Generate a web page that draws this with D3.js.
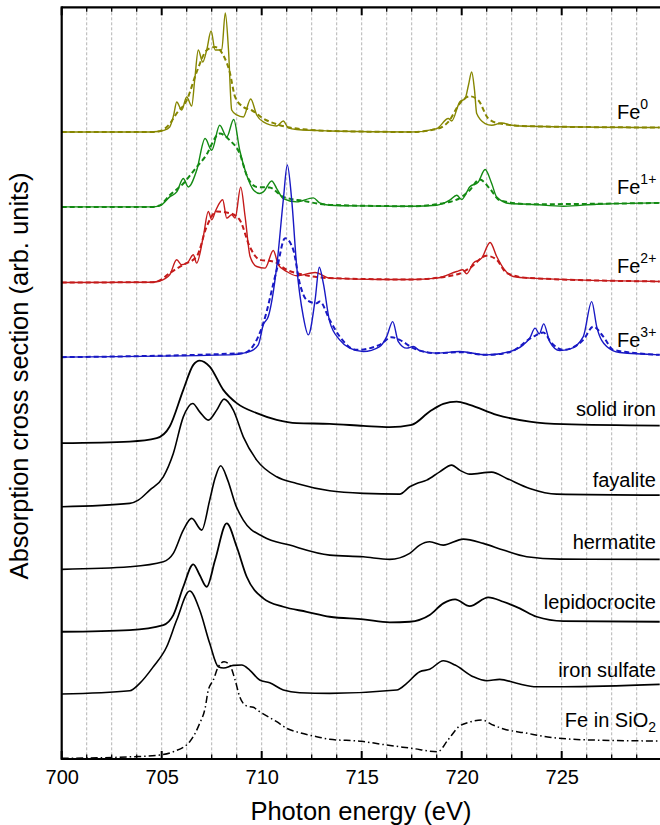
<!DOCTYPE html>
<html><head><meta charset="utf-8">
<script src="https://cdn.jsdelivr.net/npm/d3@7"></script>
<style>
body{margin:0;background:#fff;}
svg{display:block;font-family:"Liberation Sans",Arial,Helvetica,sans-serif;}
</style>
</head><body>
<svg id="chart" width="660" height="825"></svg>
<script>
// ---------------- data ----------------
const xMajorTicks = [700, 705, 710, 715, 720, 725];
const xMinorTicks = [701.25, 702.5, 703.75, 706.25, 707.5, 708.75, 711.25, 712.5, 713.75,
  716.25, 717.5, 718.75, 721.25, 722.5, 723.75, 726.25, 727.5, 728.75];

const seriesNames = ["Fe0", "Fe1+", "Fe2+", "Fe3+", "solid iron", "fayalite", "hermatite",
  "lepidocrocite", "iron sulfate", "Fe in SiO2"];
// vertical stacking offset of each spectrum (arb. units)
const offsets = [627.3, 552.3, 476.7, 402, 316, 252.3, 189.7, 127.3, 65, 0.7];

const fe0Solid = [[700,0],[704.4,0],[704.8,0.4],[705.1,1.5],[705.4,5],[705.6,17],[705.75,30],[706.0,22],[706.25,35],[706.5,26],[706.65,52],[706.83,82],[707.05,70],[707.25,82],[707.47,101],[707.67,82],[708.0,82],[708.18,119],[708.34,82],[708.5,22],[708.75,17],[709.08,15],[709.45,33],[709.75,17],[710.08,10],[710.75,6],[711.08,11],[711.33,4],[711.75,2.4],[713.4,1],[717.5,0],[718.75,3.4],[719.33,13.4],[719.5,11],[719.9,30],[720.17,33.4],[720.34,47],[720.5,60],[720.64,42],[720.75,18.4],[721.17,8.4],[721.5,6.7],[722.0,9],[722.5,6.7],[723.4,5.7],[729.9,4.4]];
const fe0Dashed = [[700,0],[704.6,0],[705.0,1.5],[705.4,8],[705.75,18.7],[706.25,31.7],[706.75,60],[707.25,81.7],[707.67,85],[708.08,76.7],[708.4,60],[708.67,35],[709.08,25],[709.5,21.7],[710.08,13.4],[710.75,7.7],[711.4,4.4],[712.25,2.4],[713.4,1],[717.5,0],[718.75,3],[719.33,10],[719.9,28.4],[720.4,35.7],[720.83,31.7],[721.33,13.4],[721.9,8.4],[723.4,5.7],[729.9,4.4]];

const fe1Solid = [[700,0],[704.5,0],[704.9,1],[705.4,10],[705.75,15],[706.08,28.4],[706.33,20],[706.75,36.7],[707.17,68.4],[707.5,56.7],[707.9,81.7],[708.25,70],[708.6,87.4],[708.9,56.7],[709.25,31.7],[709.6,16.7],[709.9,13.4],[710.08,15],[710.5,26],[710.75,18.4],[711.08,8.4],[711.75,5],[712.58,9],[712.9,4],[713.4,1.7],[715,1],[717.5,0.7],[718.75,1.7],[719.4,6.7],[719.75,11.7],[720.0,7.4],[720.4,20],[720.83,25],[721.17,37.4],[721.5,23.4],[721.75,10],[722.4,3.4],[723.4,2.7],[725.1,0.7],[726.75,2.7],[729.9,4]];
const fe1Dashed = [[700,0],[704.5,0],[704.9,1.5],[705.4,11.7],[706.08,23.4],[706.75,40],[707.17,50],[707.9,73.4],[708.4,66.7],[708.9,53.4],[709.25,31.7],[709.75,20],[710.4,19.4],[711.08,10],[712.08,6],[713.4,2],[717.5,0.7],[719.4,5],[720.0,10],[720.4,16.7],[720.9,27.4],[721.4,18.4],[721.9,6.7],[723.4,2.7],[729.9,4]];

const fe2Solid = [[700,0],[704.5,0.3],[704.9,1.5],[705.4,7.7],[705.75,22.7],[706.0,17.7],[706.3,20],[706.58,27.7],[706.75,19.4],[707.08,46],[707.33,71],[707.5,62.7],[707.7,72],[708.05,82.7],[708.25,64.4],[708.5,67.7],[708.67,64.4],[708.95,95.4],[709.17,66],[709.42,26],[709.75,16],[710.17,14.4],[710.58,32],[710.83,17.7],[711.25,11],[711.75,6.7],[712.67,10],[713.4,4.4],[716,3],[717.5,3],[718.75,4.4],[719.75,11],[720.05,12.7],[720.25,8.7],[720.58,19.4],[721.0,24.4],[721.42,40],[721.75,26],[722.08,14.4],[722.58,6],[723.4,4.4],[729.9,1]];
const fe2Dashed = [[700,0],[704.5,0.3],[704.9,2],[705.4,9.4],[706.08,17.7],[706.75,26],[707.25,56],[707.75,71],[708.4,69.4],[708.9,62.7],[709.4,36],[709.9,22.7],[710.58,21],[711.25,12.7],[712.08,7.7],[713.4,4.4],[717.5,3],[719.75,8],[720.4,14.4],[721.25,26.7],[721.75,22.7],[722.25,9.4],[723.4,4.4],[729.9,1]];

const fe3Solid = [[700,0],[708.4,2.3],[709.4,5.6],[709.83,12.3],[710.08,32.3],[710.33,40.6],[710.75,90.6],[711.08,157.3],[711.28,192.3],[711.5,157.3],[711.75,90.6],[712.08,40.6],[712.33,22.3],[712.67,57.3],[712.88,90],[713.08,74],[713.4,35.6],[713.9,17.3],[714.4,9],[715.08,5.6],[715.9,10.6],[716.25,20.6],[716.55,35.6],[716.83,15.6],[717.25,9],[717.58,10.6],[717.9,6.6],[718.75,4],[719.9,5.6],[721.25,2.3],[722.4,5.6],[723.08,12.3],[723.4,19],[723.67,29],[723.88,23.3],[724.1,33.3],[724.4,15.6],[724.9,6.6],[725.4,8],[726.08,20.6],[726.5,55.6],[726.75,30.6],[727.25,10.6],[727.9,4.6],[729.9,2.3]];
const fe3Dashed = [[700,0],[709.08,4],[709.75,17.3],[710.08,34],[710.75,87.3],[711.17,119],[711.58,107.3],[711.9,74],[712.25,57.3],[712.75,54],[712.9,55.6],[713.4,37.3],[713.9,20.6],[714.75,7.3],[715.9,12.3],[716.5,20],[716.9,17.3],[717.58,9],[718.75,4],[719.9,5],[721.25,2.3],[722.4,5],[723.58,20.6],[724.08,24.6],[724.5,14],[725.08,7.3],[726.08,17.3],[726.58,30.6],[727.08,20.6],[727.58,7.3],[729.9,2.3]];

const solidIron = [[700,0],[703.4,1.6],[704.75,5],[705.4,16.6],[706.08,53.3],[706.58,78.3],[706.9,82.6],[707.4,76.6],[708.08,53.3],[708.75,40],[709.75,30],[710.75,23.3],[711.75,20],[713.4,19.3],[715.08,17.3],[716.4,16],[717.5,18.3],[718.4,31.6],[719.08,39.3],[719.75,41.6],[720.4,38.3],[721.75,28.3],[723.4,21.6],[725.08,19],[729.9,17.6]];
const fayalite = [[700,0],[703.4,3.4],[703.83,6.7],[704.4,16.7],[705.08,30],[705.58,53.4],[706.08,90],[706.55,103.4],[706.9,95],[707.33,86.7],[707.75,96.7],[708.12,107.7],[708.58,96.7],[709.08,70],[709.75,46.7],[710.75,30],[711.75,23.4],[713.4,16],[715.08,13.4],[716.9,12.7],[717.4,20],[717.75,23.4],[718.25,26.7],[718.9,35],[719.5,41.7],[719.9,36.7],[720.4,32.7],[721.5,34.7],[722.25,28.4],[723.4,18.4],[724.75,12.7],[729.9,11.7]];
const hermatite = [[700,0],[703.4,2.6],[705.08,7.6],[705.58,16],[706.08,39.3],[706.5,51],[707.0,39.3],[707.4,69.3],[707.67,91.3],[707.95,103.6],[708.3,89.3],[708.7,64.3],[709.08,49.3],[710.08,32.6],[711.4,24.3],[713.4,14.3],[715.08,12.6],[716.4,10],[717.4,16],[717.9,24.3],[718.4,27.6],[719.08,24.3],[720.08,30.3],[721.08,26],[722.08,19.3],[723.25,12.6],[724.9,10.3],[729.9,10]];
const lepidocrocite = [[700,0],[703.4,1.7],[705.08,6.7],[705.58,16.7],[706.08,45],[706.58,67.4],[706.9,56.7],[707.25,45],[707.67,71.7],[708.25,108.4],[708.75,85],[709.25,55],[710.08,33.4],[711.08,25],[712.25,20],[713.4,15],[715.08,12.4],[716.4,9.4],[717.4,10],[718.4,16.7],[719.08,28.4],[719.67,32.4],[720.4,25.7],[721.33,34.4],[722.08,30],[722.9,23.4],[723.75,15],[725.08,10.7],[729.9,10]];
const ironSulfate = [[700,0],[703.4,3.3],[703.9,10.7],[704.58,27.3],[705.25,47.3],[705.75,74],[706.4,103],[706.9,84],[707.4,50.7],[707.83,27.3],[708.1,26],[708.58,28.7],[709.0,29],[709.4,24],[709.9,14],[710.4,11.3],[711.08,4],[711.9,1.3],[713.4,0.7],[716.75,4],[717.25,10.7],[717.9,22.3],[718.4,24.7],[719.08,33.3],[719.67,29],[720.58,17.3],[721.25,13.3],[721.9,14.7],[722.75,10.7],[723.75,7.3],[725.08,7.3],[729.9,9.7]];
const feInSiO2 = [[700,0],[703.6,1.6],[704.9,3.3],[705.58,6.6],[706.4,16.6],[706.9,35],[707.17,50],[707.33,68.3],[707.58,78.3],[707.83,91.6],[708.12,96.6],[708.4,93.3],[708.67,78.3],[708.9,61.6],[709.25,52.3],[709.58,51],[709.9,46.6],[710.75,36.6],[711.25,30],[711.9,25.6],[712.75,21.6],[713.4,19],[715,17],[716,14],[717.5,10],[718.8,6.6],[719.3,18],[719.85,31.6],[720.4,36.3],[721.0,38.3],[721.6,33],[722.1,29.3],[723.2,25.3],[724.3,21.3],[726.5,18.3],[729.9,17.3]];

// ---------------- layout / style ----------------
const W = 660, H = 825;
const margin = {left: 61.7, top: 7.3, bottom: 759};
const svg = d3.select("#chart");

const x = d3.scaleLinear().domain([700, 730]).range([margin.left, margin.left + 600]);
const y = d3.scaleLinear().domain([0, 752]).range([margin.bottom, margin.top]);

const curves = [
  {data: fe0Solid, idx: 0, color: "#868600", width: 1.4, dash: null},
  {data: fe0Dashed, idx: 0, color: "#868600", width: 2, dash: "5,3"},
  {data: fe1Solid, idx: 1, color: "#138a13", width: 1.4, dash: null},
  {data: fe1Dashed, idx: 1, color: "#138a13", width: 2, dash: "5,3"},
  {data: fe2Solid, idx: 2, color: "#c41a1a", width: 1.4, dash: null},
  {data: fe2Dashed, idx: 2, color: "#c41a1a", width: 2, dash: "5,3"},
  {data: fe3Solid, idx: 3, color: "#1818c4", width: 1.4, dash: null},
  {data: fe3Dashed, idx: 3, color: "#1818c4", width: 2, dash: "5,3"},
  {data: solidIron, idx: 4, color: "#000", width: 1.8, dash: null},
  {data: fayalite, idx: 5, color: "#000", width: 1.6, dash: null},
  {data: hermatite, idx: 6, color: "#000", width: 1.6, dash: null},
  {data: lepidocrocite, idx: 7, color: "#000", width: 1.8, dash: null},
  {data: ironSulfate, idx: 8, color: "#000", width: 1.6, dash: null},
  {data: feInSiO2, idx: 9, color: "#000", width: 1.5, dash: "7,3,1.5,3"}
];

// gridlines
const gridTicks = xMajorTicks.concat(xMinorTicks).filter(t => t > 700);
svg.append("g").selectAll("line").data(gridTicks).join("line")
  .attr("x1", d => x(d)).attr("x2", d => x(d))
  .attr("y1", margin.top).attr("y2", margin.bottom)
  .attr("stroke", "#b4b4b4").attr("stroke-width", 1).attr("stroke-dasharray", "3,2");

// curves
const line = d3.line().curve(d3.curveMonotoneX);
svg.append("g").selectAll("path").data(curves).join("path")
  .attr("d", c => line(c.data.map(p => [x(p[0]), y(p[1] + offsets[c.idx])])))
  .attr("fill", "none")
  .attr("stroke", c => c.color)
  .attr("stroke-width", c => c.width)
  .attr("stroke-dasharray", c => c.dash)
  .attr("stroke-linejoin", "round");

// axes
const bottomAxis = d3.axisBottom(x).tickValues(xMajorTicks).tickSize(0).tickPadding(0).tickFormat(d3.format("d"));
const gB = svg.append("g").attr("transform", `translate(0,${margin.bottom})`).call(bottomAxis);
gB.select(".domain").remove();
gB.selectAll("text").attr("font-size", 20).attr("fill", "#000")
  .attr("font-family", '"Liberation Sans",Arial,sans-serif').attr("dy", null).attr("y", 25.3);

const tickG = svg.append("g").attr("stroke", "#000");
tickG.selectAll(".bmaj").data(xMajorTicks).join("line")
  .attr("x1", d => x(d)).attr("x2", d => x(d)).attr("y1", margin.bottom).attr("y2", margin.bottom - 8).attr("stroke-width", 2);
tickG.selectAll(".bmin").data(xMinorTicks).join("line")
  .attr("x1", d => x(d)).attr("x2", d => x(d)).attr("y1", margin.bottom).attr("y2", margin.bottom - 4.5).attr("stroke-width", 1.3);
tickG.selectAll(".tmaj").data(xMajorTicks).join("line")
  .attr("x1", d => x(d)).attr("x2", d => x(d)).attr("y1", margin.top).attr("y2", margin.top + 8).attr("stroke-width", 2);
tickG.selectAll(".tmin").data(xMinorTicks).join("line")
  .attr("x1", d => x(d)).attr("x2", d => x(d)).attr("y1", margin.top).attr("y2", margin.top + 4.5).attr("stroke-width", 1.3);

// frame
svg.append("line").attr("x1", margin.left).attr("x2", W).attr("y1", margin.bottom).attr("y2", margin.bottom)
  .attr("stroke", "#000").attr("stroke-width", 2.2);
svg.append("line").attr("x1", margin.left).attr("x2", W).attr("y1", margin.top).attr("y2", margin.top)
  .attr("stroke", "#000").attr("stroke-width", 2.2);
svg.append("line").attr("x1", margin.left).attr("x2", margin.left).attr("y1", margin.top - 1.1).attr("y2", margin.bottom + 1.1)
  .attr("stroke", "#000").attr("stroke-width", 2.2);

// axis titles
svg.append("text").attr("x", 361).attr("y", 820).attr("text-anchor", "middle")
  .attr("font-size", 25.5).text("Photon energy (eV)");
svg.append("text").attr("transform", "translate(28,376) rotate(-90)").attr("text-anchor", "middle")
  .attr("font-size", 25.5).text("Absorption cross section (arb. units)");

// series labels
const ionLabels = [
  {base: "Fe", sup: "0", y: 119},
  {base: "Fe", sup: "1+", y: 194},
  {base: "Fe", sup: "2+", y: 272.7},
  {base: "Fe", sup: "3+", y: 346.7}
];
ionLabels.forEach(l => {
  const t = svg.append("text").attr("x", 617).attr("y", l.y).attr("font-size", 20);
  t.append("tspan").text(l.base);
  t.append("tspan").attr("font-size", 14).attr("dy", -10).text(l.sup);
});
const compoundLabels = [
  {text: seriesNames[4], y: 416},
  {text: seriesNames[5], y: 486.7},
  {text: seriesNames[6], y: 549.3},
  {text: seriesNames[7], y: 609.3},
  {text: seriesNames[8], y: 676.7}
];
compoundLabels.forEach(l => {
  svg.append("text").attr("x", 656).attr("y", l.y).attr("text-anchor", "end").attr("font-size", 20).text(l.text);
});
{
  const t = svg.append("text").attr("x", 656).attr("y", 727).attr("text-anchor", "end").attr("font-size", 20);
  t.append("tspan").text("Fe in SiO");
  t.append("tspan").attr("font-size", 14).attr("dy", 5).text("2");
}
</script>
</body></html>
